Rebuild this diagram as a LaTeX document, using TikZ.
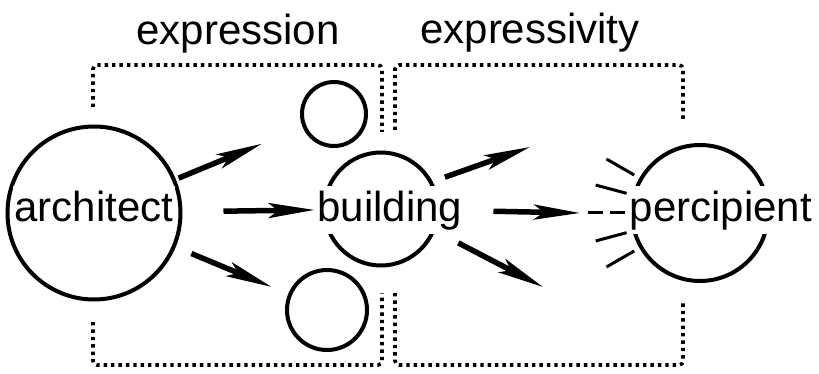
\documentclass[tikz,border=0pt]{standalone}
\usepackage{fontspec}
\setmainfont{Liberation Sans}
\usetikzlibrary{arrows.meta}

\begin{document}
\begin{tikzpicture}[x=1pt,y=-1pt,
    font=\fontsize{42}{50}\selectfont,
    ring/.style={circle,draw,line width=4pt,inner sep=0pt},
    word/.style={fill=white,inner xsep=2pt,inner ysep=4pt,
      text height=32pt,text depth=8pt,anchor=base},
    push/.style={line width=5.5pt,-{Stealth[length=46pt,width=15pt,inset=10pt]}},
    ray/.style={line width=3pt},
    bracket/.style={line width=3.6pt,dash pattern=on 3.4pt off 4pt,
      rounded corners=4pt}]
  \useasboundingbox (0,0) rectangle (819,374);
  % Headings
  \node[anchor=base] (expression) at (238,45) {expression};
  \node[anchor=base] (expressivity) at (530,44) {expressivity};
  % Brackets
  \draw[bracket] (93,107) -- (93,65) -- (382,65) -- (382,132);
  \draw[bracket] (93,322) -- (93,365) -- (382,365) -- (382,293);
  \draw[bracket] (395,130) -- (395,65) -- (683,65) -- (683,122);
  \draw[bracket] (395,293) -- (395,365) -- (683,365) -- (683,303);
  % Circles
  \node[ring,minimum size=173pt] (architect) at (94,213) {};
  \node[ring,minimum size=64pt] (upper) at (334,114) {};
  \node[ring,minimum size=80pt] (lower) at (327,310) {};
  \node[ring,minimum size=113pt] (building) at (381,209) {};
  \node[ring,minimum size=136pt] (percipient) at (700,213) {};
  % Labels
  \node[word] (architect-text) at (94,222) {architect};
  \node[word] (building-text) at (390,222) {building};
  \node[word] (percipient-text) at (721,222) {percipient};
  % Free ends
  \coordinate (b-up) at (530,147);
  \coordinate (b-mid) at (580,213);
  \coordinate (b-dn) at (543,287);
  % Arrows
  \draw[push,shorten <=3pt,shorten >=44pt] (architect) -- (upper);
  \draw[push,shorten <=41pt,shorten >=8pt] (architect) -- (building);
  \draw[push,shorten <=17pt,shorten >=18pt] (architect) -- (lower);
  \draw[push,shorten <=13pt] (building.28) -- (b-up);
  \draw[push,shorten <=54pt] (building) -- (b-mid);
  \draw[push,shorten <=26pt] (building.-22) -- (b-dn);
  % Rays
  \foreach \a in {150,165,195,210}
    \draw[ray] ([shift={(\a:108pt)}]percipient.center)
      -- ([shift={(\a:76pt)}]percipient.center);
  \draw[ray,dash pattern=on 15pt off 7pt]
    ([shift={(180:112pt)}]percipient.center)
    -- ([shift={(180:75pt)}]percipient.center);
\end{tikzpicture}
\end{document}
